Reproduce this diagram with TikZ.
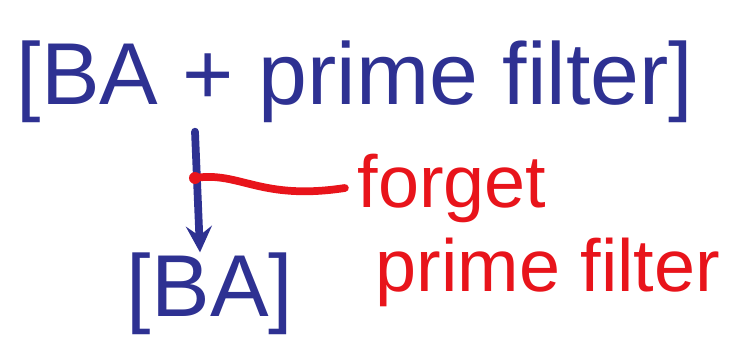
\documentclass[tikz,border=0pt]{standalone}
\usepackage{fontspec}
\setmainfont{Liberation Sans}
\usetikzlibrary{positioning}

\definecolor{penblue}{RGB}{46,49,146}
\definecolor{penred}{RGB}{232,20,27}

\tikzset{
  bluetext/.style={text=penblue,font=\fontsize{25}{29}\selectfont,inner sep=0pt},
  redtext/.style={text=penred,font=\fontsize{21}{25}\selectfont,inner sep=0pt},
  stroke/.style={line width=2.2pt,line cap=round,line join=round}
}

\begin{document}
\begin{tikzpicture}
  \useasboundingbox (0,0) rectangle (7.29,3.46);
  % objects
  \node[bluetext] (top) at (3.55,2.64) {[BA + prime filter]};
  \node[bluetext] (bottom) at (2.1,0.52) {[BA]};
  \node[redtext] (forget) at (4.52,1.58) {forget};
  \node[redtext] (prime) at (5.48,0.74) {prime filter};
  % the functor
  \coordinate (dot) at (1.95,1.68);
  \draw[stroke,penblue,->,>=stealth] (top.south -| dot) ++(0,-0.08) -- (bottom.north -| 2.0,0);
  % label
  \fill[penred] (dot) circle (0.06);
  \draw[stroke,penred] (dot) .. controls (2.4,1.75) and (2.6,1.45) .. ([xshift=-0.12cm]forget.west);
\end{tikzpicture}
\end{document}
